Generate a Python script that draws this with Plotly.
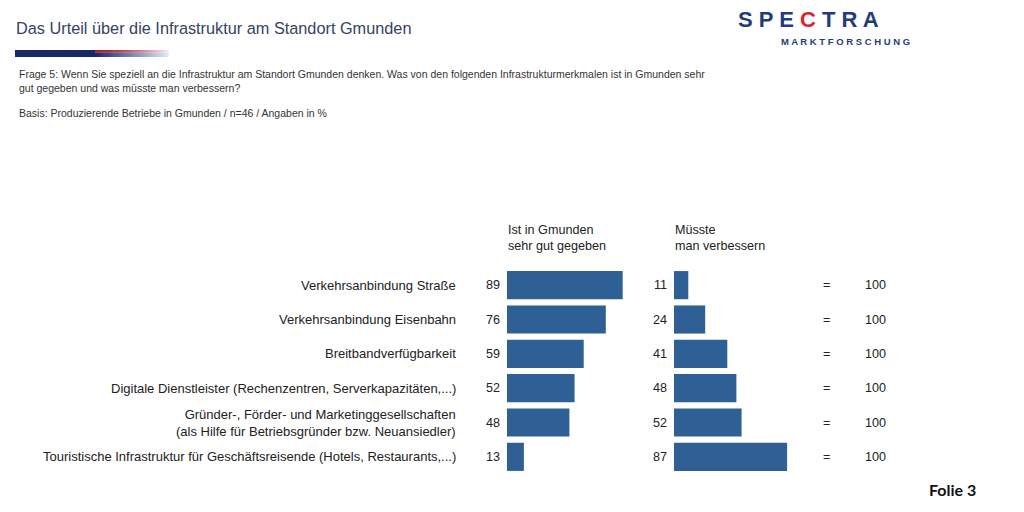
import plotly.graph_objects as go

categories = [
    "Verkehrsanbindung Straße",
    "Verkehrsanbindung Eisenbahn",
    "Breitbandverfügbarkeit",
    "Digitale Dienstleister (Rechenzentren, Serverkapazitäten,...)",
    "Gründer-, Förder- und Marketinggesellschaften<br>(als Hilfe für Betriebsgründer bzw. Neuansiedler)",
    "Touristische Infrastruktur für Geschäftsreisende (Hotels, Restaurants,...)",
]
gut_gegeben = [89, 76, 59, 52, 48, 13]
verbessern = [11, 24, 41, 48, 52, 87]
totals = [100, 100, 100, 100, 100, 100]

BAR = "#2e6096"
FONT = "Liberation Sans, Arial, sans-serif"
W, H = 1024, 512
OFF = 8  # page body margin

def px(x):
    return (x - OFF) / W

def py(y):
    return 1 - (y - OFF) / H

rows = list(range(len(categories)))

fig = go.Figure()
fig.add_trace(go.Bar(x=gut_gegeben, y=rows, orientation="h", marker=dict(color=BAR, line=dict(width=0)),
                     xaxis="x", yaxis="y", hoverinfo="skip", showlegend=False))
fig.add_trace(go.Bar(x=verbessern, y=rows, orientation="h", marker=dict(color=BAR, line=dict(width=0)),
                     xaxis="x2", yaxis="y", hoverinfo="skip", showlegend=False))

TS = 12.6
LS = 13
ann = []
for i, c in enumerate(categories):
    ann.append(dict(x=px(458), y=i, xref="paper", yref="y", text=c, showarrow=False,
                    xanchor="right", yanchor="middle", align="right",
                    font=dict(family=FONT, size=LS, color="#222")))
    ann.append(dict(x=0, y=i, xref="x", yref="y", text=str(gut_gegeben[i]), showarrow=False,
                    xanchor="right", yanchor="middle", xshift=-5,
                    font=dict(family=FONT, size=TS, color="#222")))
    ann.append(dict(x=0, y=i, xref="x2", yref="y", text=str(verbessern[i]), showarrow=False,
                    xanchor="right", yanchor="middle", xshift=-5,
                    font=dict(family=FONT, size=TS, color="#222")))
    ann.append(dict(x=px(826), y=i, xref="paper", yref="y", text="=", showarrow=False,
                    xanchor="center", yanchor="middle",
                    font=dict(family=FONT, size=TS, color="#222")))
    ann.append(dict(x=px(875), y=i, xref="paper", yref="y", text=str(totals[i]), showarrow=False,
                    xanchor="center", yanchor="middle",
                    font=dict(family=FONT, size=TS, color="#222")))

# column headers
ann.append(dict(x=px(506), y=py(221), xref="paper", yref="paper", text="Ist in Gmunden<br>sehr gut gegeben",
                showarrow=False, xanchor="left", yanchor="top", align="left",
                font=dict(family=FONT, size=TS, color="#222")))
ann.append(dict(x=px(673), y=py(221), xref="paper", yref="paper", text="Müsste<br>man verbessern",
                showarrow=False, xanchor="left", yanchor="top", align="left",
                font=dict(family=FONT, size=TS, color="#222")))

# title and texts
ann.append(dict(x=px(14), y=py(28), xref="paper", yref="paper", text="Das Urteil über die Infrastruktur am Standort Gmunden",
                showarrow=False, xanchor="left", yanchor="middle",
                font=dict(family=FONT, size=16.3, color="#34435f")))
ann.append(dict(x=px(17), y=py(66), xref="paper", yref="paper",
                text="Frage 5: Wenn Sie speziell an die Infrastruktur am Standort Gmunden denken. Was von den folgenden Infrastrukturmerkmalen ist in Gmunden sehr<br>gut gegeben und was müsste man verbessern?",
                showarrow=False, xanchor="left", yanchor="top", align="left",
                font=dict(family=FONT, size=10.5, color="#333")))
ann.append(dict(x=px(17), y=py(113), xref="paper", yref="paper",
                text="Basis: Produzierende Betriebe in Gmunden / n=46 / Angaben in %",
                showarrow=False, xanchor="left", yanchor="middle",
                font=dict(family=FONT, size=10.5, color="#333")))
ann.append(dict(x=px(927), y=py(489), xref="paper", yref="paper", text="<b>Folie 3</b>",
                showarrow=False, xanchor="left", yanchor="middle",
                font=dict(family="Lato, Liberation Sans, sans-serif", size=16, color="#111")))

# logo
ann.append(dict(x=px(736), y=py(19), xref="paper", yref="paper",
                text="<b>S P E <span style='color:#d8262e'>C</span> T R A</b>",
                showarrow=False, xanchor="left", yanchor="middle",
                font=dict(family=FONT, size=22, color="#1f3d7a")))
ann.append(dict(x=px(779), y=py(41), xref="paper", yref="paper",
                text="<b>M A R K T F O R S C H U N G</b>",
                showarrow=False, xanchor="left", yanchor="middle",
                font=dict(family=FONT, size=9.5, color="#1f3d7a")))

shapes = []
# gradient line under title: navy body fading out through red
x0, x1 = 15, 168
shapes.append(dict(type="rect", xref="paper", yref="paper", x0=px(x0), x1=px(95),
                   y0=py(57), y1=py(50), fillcolor="rgb(24,40,105)", line=dict(width=0), layer="above"))
n = 40
for k in range(n):
    u = k / n
    xa = 95 + (x1 - 95) * u
    xb = 95 + (x1 - 95) * (k + 1) / n + 0.6
    r = int(24 + (225 - 24) * u)
    g = int(40 + (235 - 40) * u)
    b = int(105 + (245 - 105) * u)
    shapes.append(dict(type="rect", xref="paper", yref="paper", x0=px(xa), x1=px(xb),
                       y0=py(57), y1=py(52.5), fillcolor="rgb(%d,%d,%d)" % (r, g, b),
                       line=dict(width=0), layer="above"))
    rr = int(170 + (255 - 170) * u ** 1.5)
    gg = int(30 + (235 - 30) * u ** 1.5)
    bb = int(50 + (235 - 50) * u ** 1.5)
    shapes.append(dict(type="rect", xref="paper", yref="paper", x0=px(xa), x1=px(xb),
                       y0=py(52.5), y1=py(50), fillcolor="rgb(%d,%d,%d)" % (rr, gg, bb),
                       line=dict(width=0), layer="above"))

fig.update_layout(
    width=W, height=H, margin=dict(l=0, r=0, t=0, b=0),
    paper_bgcolor="white", plot_bgcolor="white",
    bargap=0.18,
    xaxis=dict(domain=[px(507), px(637)], range=[0, 100], visible=False, fixedrange=True),
    xaxis2=dict(domain=[px(674), px(804)], range=[0, 100], visible=False, fixedrange=True),
    yaxis=dict(domain=[py(474), py(268)], range=[5.5, -0.5], visible=False, fixedrange=True),
    annotations=ann, shapes=shapes,
)

fig.write_html("out.html")
